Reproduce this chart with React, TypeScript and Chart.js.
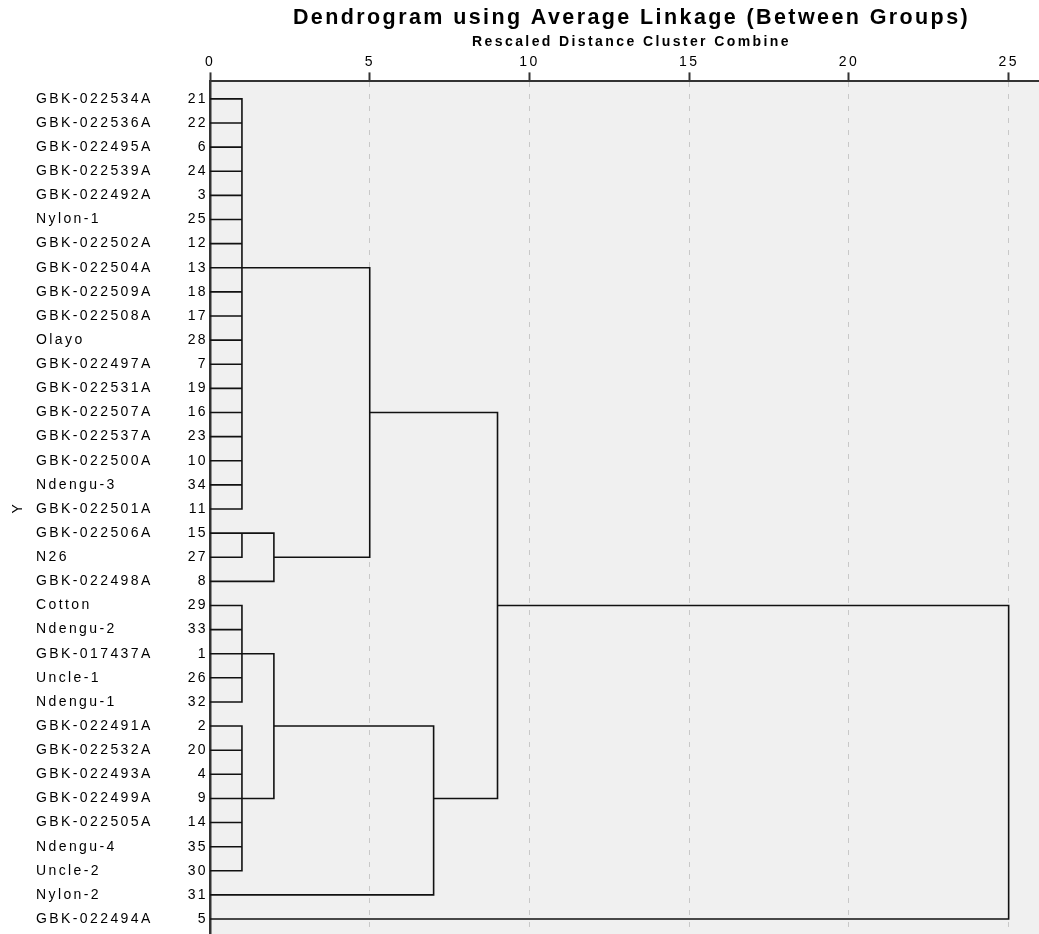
import React, { useEffect, useRef } from 'react';
import { Chart, registerables } from 'chart.js';

Chart.register(...registerables);

// ---------- data ----------
const leafNames = [
  'GBK-022534A', 'GBK-022536A', 'GBK-022495A', 'GBK-022539A', 'GBK-022492A',
  'Nylon-1', 'GBK-022502A', 'GBK-022504A', 'GBK-022509A', 'GBK-022508A',
  'Olayo', 'GBK-022497A', 'GBK-022531A', 'GBK-022507A', 'GBK-022537A',
  'GBK-022500A', 'Ndengu-3', 'GBK-022501A', 'GBK-022506A', 'N26',
  'GBK-022498A', 'Cotton', 'Ndengu-2', 'GBK-017437A', 'Uncle-1',
  'Ndengu-1', 'GBK-022491A', 'GBK-022532A', 'GBK-022493A', 'GBK-022499A',
  'GBK-022505A', 'Ndengu-4', 'Uncle-2', 'Nylon-2', 'GBK-022494A',
];
const leafNumbers = [
  '21', '22', '6', '24', '3', '25', '12', '13', '18', '17',
  '28', '7', '19', '16', '23', '10', '34', '11', '15', '27',
  '8', '29', '33', '1', '26', '32', '2', '20', '4', '9',
  '14', '35', '30', '31', '5',
];
const xTickValues = [0, 5, 10, 15, 20, 25];

// clusters (merge height on the rescaled 0-25 axis, row where the cluster's link leaves)
const clusterIds = ['A', 'B1', 'B', 'AB', 'C1', 'C2', 'C', 'CN', 'ABC', 'ALL'];
const clusterHeights = [1, 1, 2, 5, 1, 1, 2, 7, 9, 25];
const clusterLinkRows = [7, 18, 19, 13, 23, 29, 26, 29, 21, 27];
const clusterMembers: string[][] = [
  ['L0', 'L1', 'L2', 'L3', 'L4', 'L5', 'L6', 'L7', 'L8', 'L9', 'L10', 'L11', 'L12', 'L13', 'L14', 'L15', 'L16', 'L17'],
  ['L18', 'L19'],
  ['B1', 'L20'],
  ['A', 'B'],
  ['L21', 'L22', 'L23', 'L24', 'L25'],
  ['L26', 'L27', 'L28', 'L29', 'L30', 'L31', 'L32'],
  ['C1', 'C2'],
  ['C', 'L33'],
  ['AB', 'CN'],
  ['ABC', 'L34'],
];

const TITLE_TEXT = 'Dendrogram using Average Linkage (Between Groups)';
const SUBTITLE_TEXT = 'Rescaled Distance Cluster Combine';

// ---------- build line path from the structure ----------
function nodeInfo(id: string): { row: number; h: number } {
  if (id.startsWith('L')) return { row: Number(id.slice(1)), h: 0 };
  const k = clusterIds.indexOf(id);
  return { row: clusterLinkRows[k], h: clusterHeights[k] };
}

function buildPoints() {
  const pts: { x: number; y: number }[] = [];
  const gap = () => pts.push({ x: NaN, y: NaN });
  clusterIds.forEach((_, k) => {
    const h = clusterHeights[k];
    const infos = clusterMembers[k].map(nodeInfo).sort((a, b) => a.row - b.row);
    const top = infos[0];
    const bot = infos[infos.length - 1];
    pts.push({ x: top.h, y: top.row }, { x: h, y: top.row }, { x: h, y: bot.row }, { x: bot.h, y: bot.row });
    gap();
    for (let i = 1; i < infos.length - 1; i++) {
      pts.push({ x: infos[i].h, y: infos[i].row }, { x: h, y: infos[i].row });
      gap();
    }
  });
  return pts;
}

const FONT = "Arial, 'Liberation Sans', sans-serif";
const Y_MIN = -0.725;
const Y_MAX = 34.62;

const spssPlugin = {
  id: 'spssLook',
  afterLayout(chart: any) {
    // titles are centred a little right of the plot area in the original
    (chart.boxes || []).forEach((b: any) => {
      const t = b && b.options && b.options.text;
      if (t === TITLE_TEXT || t === SUBTITLE_TEXT) {
        b.left += 7;
        b.right += 7;
      }
    });
  },
  beforeDraw(chart: any) {
    const { ctx, chartArea } = chart;
    ctx.save();
    ctx.fillStyle = '#f0f0f0';
    ctx.fillRect(chartArea.left, chartArea.top, chartArea.right - chartArea.left, chartArea.bottom - chartArea.top);
    ctx.restore();
    ctx.letterSpacing = '2.4px';
  },
  afterDraw(chart: any) {
    chart.ctx.letterSpacing = '0px';
  },
};

export default function App() {
  const ref = useRef<HTMLCanvasElement | null>(null);

  useEffect(() => {
    if (!ref.current) return;
    const rowTicks = (scale: any) => {
      scale.ticks = leafNames.map((_, i) => ({ value: i }));
    };
    const noPad = (w: number) => (scale: any) => {
      scale.width = w;
      scale.paddingTop = 0;
      scale.paddingBottom = 0;
    };
    const chart = new Chart(ref.current, {
      type: 'scatter',
      data: {
        datasets: [
          {
            label: 'Dendrogram',
            data: buildPoints(),
            showLine: true,
            spanGaps: false,
            borderColor: '#111111',
            borderWidth: 1.6,
            borderJoinStyle: 'miter',
            borderCapStyle: 'butt',
            pointRadius: 0,
            pointHoverRadius: 0,
            fill: false,
            tension: 0,
          } as any,
        ],
      },
      options: {
        animation: false,
        responsive: true,
        maintainAspectRatio: false,
        layout: { padding: 0 },
        events: [],
        plugins: {
          legend: { display: false },
          tooltip: { enabled: false },
          title: {
            display: true,
            text: TITLE_TEXT,
            fullSize: false,
            color: '#000000',
            font: { family: FONT, size: 21.5, weight: 'bold', lineHeight: 1.2 },
            padding: { top: 5, bottom: 0 },
          },
          subtitle: {
            display: true,
            text: SUBTITLE_TEXT,
            fullSize: false,
            color: '#000000',
            font: { family: FONT, size: 14, weight: 'bold', lineHeight: 1.2 },
            padding: { top: 3, bottom: 0 },
          },
        },
        scales: {
          x: {
            type: 'linear',
            position: 'top',
            min: 0,
            max: 25.95,
            afterBuildTicks: (scale: any) => {
              scale.ticks = xTickValues.map((v) => ({ value: v }));
            },
            afterFit: (scale: any) => {
              scale.height = 30.8;
            },
            ticks: {
              color: '#000000',
              font: { family: FONT, size: 14, lineHeight: 1.2 },
              padding: 2,
              maxRotation: 0,
              autoSkip: false,
            },
            grid: {
              display: true,
              color: '#c8c8c8',
              lineWidth: 1,
              drawTicks: true,
              tickLength: 9,
              tickColor: '#333333',
              tickWidth: 2,
              tickBorderDash: [],
            },
            border: { display: true, color: '#333333', width: 2, dash: [5, 7] },
          },
          y: {
            type: 'linear',
            position: 'left',
            reverse: true,
            min: Y_MIN,
            max: Y_MAX,
            weight: 0,
            afterBuildTicks: rowTicks,
            afterFit: noPad(29),
            ticks: {
              color: '#000000',
              font: { family: FONT, size: 14, lineHeight: 1.2 },
              padding: 2,
              crossAlign: 'near',
              autoSkip: false,
              callback: (v: any) => leafNumbers[Math.round(Number(v))],
            },
            grid: { display: false, drawTicks: false },
            border: { display: true, color: '#333333', width: 2.5 },
          },
          y2: {
            type: 'linear',
            position: 'left',
            reverse: true,
            min: Y_MIN,
            max: Y_MAX,
            weight: 1,
            afterBuildTicks: rowTicks,
            afterFit: noPad(145),
            ticks: {
              color: '#000000',
              font: { family: FONT, size: 14, lineHeight: 1.2 },
              padding: 0,
              crossAlign: 'far',
              autoSkip: false,
              callback: (v: any) => leafNames[Math.round(Number(v))],
            },
            grid: { display: false, drawTicks: false },
            border: { display: false },
          },
          y3: {
            type: 'linear',
            position: 'left',
            reverse: true,
            min: Y_MIN,
            max: Y_MAX,
            weight: 2,
            afterFit: noPad(36),
            ticks: { display: false },
            grid: { display: false, drawTicks: false },
            border: { display: false },
            title: {
              display: true,
              text: 'Y',
              color: '#000000',
              font: { family: FONT, size: 14, lineHeight: 1.2 },
              padding: { top: 10, bottom: 0 },
            },
          },
        },
      } as any,
      plugins: [spssPlugin],
    });
    return () => chart.destroy();
  }, []);

  return (
    <div style={{ position: 'absolute', left: 0, top: 0, width: 1039, height: 934, background: '#ffffff' }}>
      <canvas ref={ref} />
    </div>
  );
}
